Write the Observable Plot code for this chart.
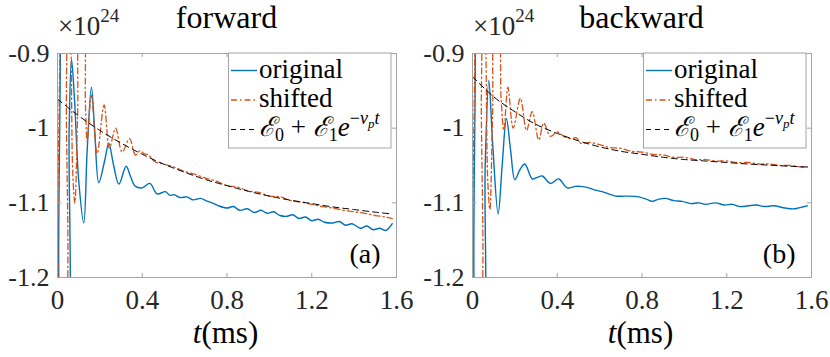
<!DOCTYPE html>
<html><head><meta charset="utf-8">
<script src="https://cdn.jsdelivr.net/npm/d3@7"></script>
<script src="https://cdn.jsdelivr.net/npm/@observablehq/plot@0.6"></script>
<style>
body{margin:0;background:#fff}
#wrap{display:flex;width:830px;height:357px;overflow:hidden}
#wrap svg text{font-family:"Liberation Serif","DejaVu Serif",serif}
</style></head><body><div id="wrap"></div>
<script>
// ---------- data ----------
const xTicks = [0, 0.4, 0.8, 1.2, 1.6];
const xTickLabels = ["0", "0.4", "0.8", "1.2", "1.6"];
const yTicks = [-1.2, -1.1, -1, -0.9];
const yTickLabels = ["-1.2", "-1.1", "-1", "-0.9"];
const panelTitles = ["forward", "backward"];
const panelTags = ["(a)", "(b)"];
const seriesNames = ["original", "shifted"];

const fwdOriginal = [[0,-0.80],[0.012,-0.86],[0.028,-1.30],[0.042,-1.30],[0.055,-1.00],[0.066,-0.908],[0.08,-0.96],[0.1,-1.07],[0.124,-1.127],[0.14,-1.03],[0.16,-0.945],[0.175,-1.00],[0.195,-1.073],[0.223,-1.043],[0.242,-1.02],[0.265,-1.05],[0.29,-1.075],[0.324,-1.051],[0.345,-1.065],[0.368,-1.078],[0.40,-1.080],[0.436,-1.074],[0.47,-1.088],[0.51,-1.085],[0.53,-1.090],[0.55,-1.089],[0.58,-1.093],[0.61,-1.092],[0.64,-1.096],[0.675,-1.094],[0.70,-1.097],[0.73,-1.100],[0.76,-1.104],[0.80,-1.107],[0.83,-1.105],[0.86,-1.110],[0.895,-1.108],[0.93,-1.113],[0.96,-1.110],[0.99,-1.114],[1.02,-1.112],[1.05,-1.117],[1.083,-1.118],[1.11,-1.116],[1.14,-1.121],[1.17,-1.119],[1.2,-1.124],[1.23,-1.122],[1.26,-1.126],[1.3,-1.127],[1.33,-1.125],[1.36,-1.130],[1.39,-1.128],[1.43,-1.134],[1.46,-1.131],[1.49,-1.136],[1.52,-1.134],[1.55,-1.137],[1.58,-1.128]];

const fwdShifted = [[0,-0.80],[0.01,-0.85],[0.02,-1.25],[0.032,-1.25],[0.042,-0.95],[0.05,-0.82],[0.06,-0.85],[0.072,-1.06],[0.082,-1.10],[0.095,-0.98],[0.108,-0.86],[0.12,-0.86],[0.132,-0.97],[0.14,-1.018],[0.16,-0.956],[0.187,-1.034],[0.22,-0.969],[0.245,-1.027],[0.274,-1.0],[0.305,-1.032],[0.34,-1.014],[0.368,-1.036],[0.39,-1.03],[0.407,-1.034],[0.43,-1.036],[0.46,-1.045],[0.5,-1.048],[0.55,-1.052],[0.6,-1.058],[0.65,-1.062],[0.7,-1.067],[0.75,-1.071],[0.8,-1.077],[0.85,-1.079],[0.9,-1.084],[0.95,-1.086],[1.0,-1.091],[1.05,-1.092],[1.1,-1.097],[1.15,-1.099],[1.2,-1.102],[1.25,-1.105],[1.3,-1.107],[1.35,-1.110],[1.4,-1.112],[1.45,-1.114],[1.5,-1.117],[1.55,-1.119],[1.58,-1.121]];

const fwdFit = [[0,-0.961],[0.1,-0.9835],[0.2,-1.003],[0.3,-1.020],[0.4,-1.035],[0.5,-1.048],[0.6,-1.059],[0.7,-1.069],[0.8,-1.077],[0.9,-1.0845],[1.0,-1.091],[1.1,-1.0965],[1.2,-1.101],[1.3,-1.1055],[1.4,-1.109],[1.5,-1.1125],[1.58,-1.115]];

const bwdOriginal = [[0,-0.80],[0.012,-0.86],[0.03,-1.30],[0.045,-1.30],[0.06,-1.05],[0.077,-0.936],[0.095,-1.02],[0.121,-1.115],[0.14,-1.05],[0.16,-0.987],[0.18,-1.03],[0.2,-1.069],[0.225,-1.055],[0.247,-1.048],[0.282,-1.068],[0.305,-1.066],[0.329,-1.064],[0.368,-1.074],[0.407,-1.068],[0.447,-1.08],[0.486,-1.078],[0.509,-1.078],[0.549,-1.08],[0.58,-1.083],[0.612,-1.085],[0.675,-1.091],[0.72,-1.091],[0.785,-1.092],[0.82,-1.095],[0.848,-1.098],[0.88,-1.095],[0.91,-1.094],[0.95,-1.097],[0.99,-1.098],[1.03,-1.101],[1.068,-1.100],[1.10,-1.102],[1.146,-1.100],[1.19,-1.103],[1.225,-1.102],[1.26,-1.105],[1.30,-1.104],[1.34,-1.103],[1.38,-1.105],[1.42,-1.104],[1.476,-1.107],[1.52,-1.108],[1.55,-1.106],[1.58,-1.104]];

const bwdShifted = [[0,-0.80],[0.01,-0.85],[0.02,-1.25],[0.032,-1.25],[0.042,-0.95],[0.05,-0.82],[0.06,-0.86],[0.072,-1.07],[0.082,-1.109],[0.095,-0.98],[0.108,-0.86],[0.12,-0.86],[0.135,-0.96],[0.148,-1.003],[0.167,-0.945],[0.192,-1.0],[0.226,-0.96],[0.255,-1.003],[0.282,-0.978],[0.313,-1.016],[0.336,-0.993],[0.368,-1.011],[0.40,-1.005],[0.43,-1.011],[0.462,-1.014],[0.49,-1.013],[0.51,-1.02],[0.55,-1.019],[0.6,-1.022],[0.65,-1.026],[0.7,-1.027],[0.75,-1.031],[0.8,-1.032],[0.85,-1.035],[0.9,-1.036],[0.95,-1.039],[1.0,-1.039],[1.05,-1.042],[1.1,-1.042],[1.15,-1.044],[1.2,-1.044],[1.25,-1.046],[1.3,-1.046],[1.35,-1.048],[1.4,-1.048],[1.45,-1.050],[1.5,-1.050],[1.55,-1.052],[1.58,-1.052]];

const bwdFit = [[0,-0.931],[0.1,-0.958],[0.2,-0.978],[0.3,-0.995],[0.4,-1.007],[0.5,-1.017],[0.6,-1.025],[0.7,-1.031],[0.8,-1.035],[0.9,-1.039],[1.0,-1.042],[1.1,-1.044],[1.2,-1.046],[1.3,-1.048],[1.4,-1.0495],[1.5,-1.051],[1.58,-1.052]];

// ---------- styles ----------
const FONT = '"Liberation Serif", "DejaVu Serif", serif';
const BLUE = "#0072BD", ORANGE = "#D95319", BLACK = "#000000";
const AXC = "#a3a3a3";
const DASHDOT = "6,3,1.5,3";
const DASH = "6,4";

function panel(title, tag, orig, shifted, fit) {
  const xIn = xTicks.slice(1, -1);
  const yIn = yTicks.slice(1, -1);
  const svg = Plot.plot({
    width: 415, height: 357,
    marginLeft: 57, marginRight: 19, marginTop: 53, marginBottom: 80,
    style: {fontFamily: FONT, background: "#fff", overflow: "visible"},
    x: {domain: [0, 1.6]},
    y: {domain: [-1.2, -0.9]},
    marks: [
      Plot.line(orig, {x: d => d[0], y: d => d[1], stroke: BLUE, strokeWidth: 1.4, curve: "catmull-rom", clip: true}),
      Plot.line(shifted, {x: d => d[0], y: d => d[1], stroke: ORANGE, strokeWidth: 1.3, strokeDasharray: DASHDOT, curve: "catmull-rom", clip: true}),
      Plot.line(fit, {x: d => d[0], y: d => d[1], stroke: BLACK, strokeWidth: 1, strokeDasharray: DASH, curve: "catmull-rom", clip: true}),
      Plot.frame({stroke: AXC, strokeWidth: 1}),
      Plot.ruleX(xIn, {x: d => d, y1: -1.2, y2: -1.2 + 0.0055, stroke: AXC}),
      Plot.ruleX(xIn, {x: d => d, y1: -0.9, y2: -0.9 - 0.0055, stroke: AXC}),
      Plot.ruleY(yIn, {y: d => d, x1: 0, x2: 0.02, stroke: AXC}),
      Plot.ruleY(yIn, {y: d => d, x1: 1.6, x2: 1.6 - 0.02, stroke: AXC}),
      Plot.axisX(xTicks, {anchor: "bottom", tickSize: 0, tickPadding: 12, fontSize: 27, fontFamily: FONT, fill: "#262626", label: null,
        tickFormat: d => xTickLabels[xTicks.indexOf(d)]}),
      Plot.axisY(yTicks, {anchor: "left", tickSize: 0, tickPadding: 8, fontSize: 26, fontFamily: FONT, fill: "#262626", label: null,
        tickFormat: d => yTickLabels[yTicks.indexOf(d)]}),
      Plot.text([tag], {frameAnchor: "bottom-right", text: d => d, dx: -16, dy: -15, textAnchor: "end", lineAnchor: "bottom", fontSize: 28, fontFamily: FONT, fill: "#000"})
    ]
  });
  const xs = svg.scale("x");
  const s = d3.select(svg);
  const g = s.append("g").attr("font-family", FONT).attr("fill", "#000").attr("text-anchor", "start");
  // title
  g.append("text").attr("x", xs.apply(0.8)).attr("y", 28).attr("text-anchor", "middle").attr("font-size", 32).text(title);
  // exponent
  const ex = g.append("text").attr("x", 58).attr("y", 35).attr("font-size", 27).attr("fill", "#262626");
  ex.append("tspan").text("×10");
  ex.append("tspan").attr("font-size", 19).attr("dy", -13).text("24");
  // x label
  const xl = g.append("text").attr("x", xs.apply(0.8) - 1).attr("y", 343).attr("text-anchor", "middle").attr("font-size", 31);
  xl.append("tspan").attr("font-style", "italic").text("t");
  xl.append("tspan").text("(ms)");
  // legend
  const L = g.append("g");
  L.append("rect").attr("x", 228.5).attr("y", 53).attr("width", 162.5).attr("height", 95).attr("fill", "#fff").attr("stroke", AXC);
  const rows = [
    {y: 70.5, stroke: BLUE, dash: null, w: 1.4},
    {y: 100, stroke: ORANGE, dash: DASHDOT, w: 1.3},
    {y: 129.5, stroke: BLACK, dash: "5,4", w: 1}
  ];
  rows.forEach(r => {
    L.append("line").attr("x1", 231).attr("x2", 257).attr("y1", r.y).attr("y2", r.y)
      .attr("stroke", r.stroke).attr("stroke-width", r.w).attr("stroke-dasharray", r.dash);
  });
  L.append("text").attr("x", 259).attr("y", 78).attr("font-size", 27).text(seriesNames[0]);
  L.append("text").attr("x", 259).attr("y", 107).attr("font-size", 27).text(seriesNames[1]);
  const m = L.append("text").attr("x", 259).attr("y", 136).attr("font-size", 27);
  m.append("tspan").attr("font-style", "italic").text("ℰ");
  m.append("tspan").attr("font-size", 18).attr("dy", 5).text("0");
  m.append("tspan").attr("dy", -5).text(" + ");
  m.append("tspan").attr("font-style", "italic").text("ℰ");
  m.append("tspan").attr("font-size", 18).attr("dy", 5).text("1");
  m.append("tspan").attr("dy", -5).attr("font-style", "italic").text("e");
  m.append("tspan").attr("font-size", 18).attr("dy", -12).text("−");
  m.append("tspan").attr("font-size", 18).attr("font-style", "italic").text("ν");
  m.append("tspan").attr("font-size", 13).attr("font-style", "italic").attr("dy", 4).text("p");
  m.append("tspan").attr("font-size", 18).attr("font-style", "italic").attr("dy", -4).text("t");
  return svg;
}

const wrap = document.getElementById("wrap");
wrap.appendChild(panel(panelTitles[0], panelTags[0], fwdOriginal, fwdShifted, fwdFit));
wrap.appendChild(panel(panelTitles[1], panelTags[1], bwdOriginal, bwdShifted, bwdFit));
</script></body></html>
